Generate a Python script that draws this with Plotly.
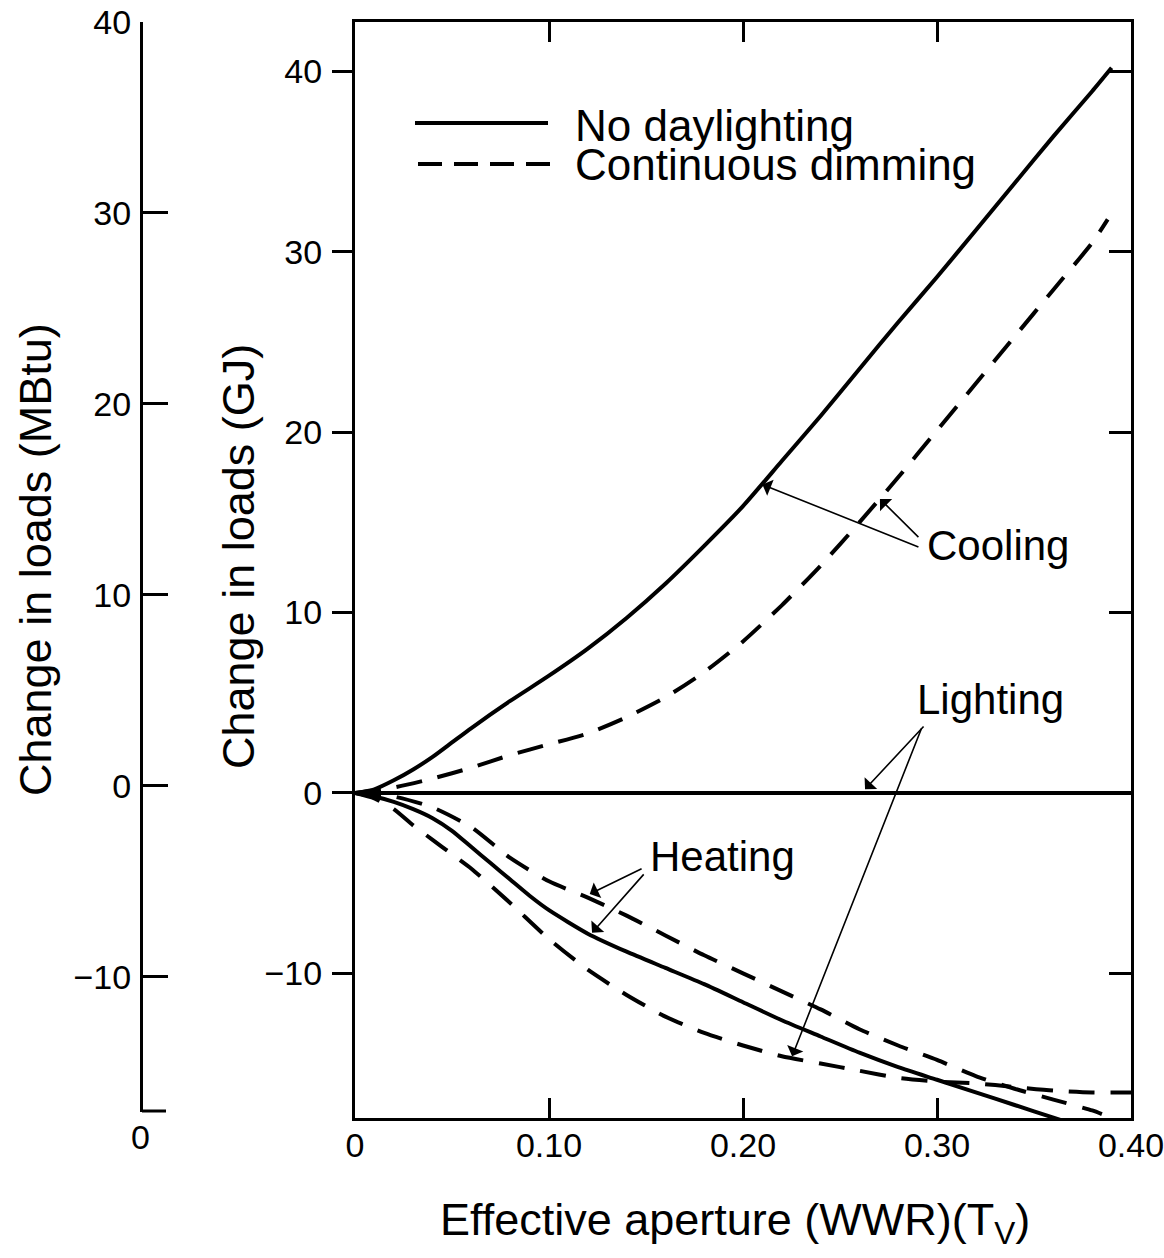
import plotly.graph_objects as go

# ---- load changes (GJ) against effective aperture (WWR)(Tv) ----
cool_none_x = [0, 0.01, 0.02, 0.03, 0.04, 0.05, 0.06, 0.08, 0.10, 0.12, 0.14, 0.16, 0.18, 0.20,
               0.22, 0.24, 0.26, 0.28, 0.30, 0.32, 0.34, 0.36, 0.38, 0.39]
cool_none_y = [0, 0.2, 0.7, 1.3, 2.0, 2.8, 3.6, 5.1, 6.5, 8.0, 9.7, 11.6, 13.7, 15.9,
               18.4, 20.9, 23.5, 26.1, 28.6, 31.2, 33.8, 36.4, 38.9, 40.2]

cool_dim_x = [0, 0.02, 0.04, 0.06, 0.08, 0.10, 0.12, 0.14, 0.16, 0.18, 0.20, 0.22, 0.24,
              0.26, 0.28, 0.30, 0.32, 0.34, 0.36, 0.38, 0.388]
cool_dim_y = [0, 0.3, 0.8, 1.4, 2.1, 2.7, 3.3, 4.2, 5.3, 6.7, 8.4, 10.4, 12.6,
              15.0, 17.5, 20.1, 22.7, 25.3, 27.9, 30.5, 31.8]

light_none_x = [0, 0.40]
light_none_y = [0, 0]

light_dim_x = [0, 0.01, 0.02, 0.03, 0.04, 0.05, 0.06, 0.08, 0.10, 0.12, 0.14, 0.16, 0.18, 0.20,
               0.22, 0.24, 0.26, 0.28, 0.30, 0.32, 0.34, 0.36, 0.38, 0.40]
light_dim_y = [0, -0.3, -0.9, -1.8, -2.6, -3.4, -4.2, -6.1, -8.1, -9.8, -11.2, -12.4, -13.3, -14.0,
               -14.6, -15.0, -15.4, -15.8, -16.0, -16.1, -16.3, -16.5, -16.6, -16.6]

heat_none_x = [0, 0.01, 0.02, 0.03, 0.04, 0.05, 0.06, 0.07, 0.08, 0.09, 0.10, 0.12, 0.14, 0.16,
               0.18, 0.20, 0.22, 0.24, 0.26, 0.28, 0.30, 0.32, 0.34, 0.36, 0.38]
heat_none_y = [0, -0.2, -0.5, -0.9, -1.4, -2.1, -3.0, -3.9, -4.8, -5.7, -6.5, -7.8, -8.8, -9.7,
               -10.6, -11.6, -12.6, -13.5, -14.4, -15.2, -15.9, -16.6, -17.3, -18.0, -18.7]

heat_dim_x = [0, 0.02, 0.04, 0.06, 0.08, 0.10, 0.12, 0.14, 0.16, 0.18, 0.20, 0.22, 0.24, 0.26,
              0.28, 0.30, 0.32, 0.34, 0.36, 0.38, 0.385]
heat_dim_y = [0, -0.2, -0.8, -1.9, -3.6, -4.9, -5.8, -6.8, -7.9, -9.0, -10.0, -11.0, -12.0, -13.1,
              -14.0, -14.8, -15.7, -16.4, -17.0, -17.6, -17.8]

x_ticks = [0, 0.1, 0.2, 0.3, 0.4]
x_tick_text = ["0", "0.10", "0.20", "0.30", "0.40"]
gj_ticks = [-10, 0, 10, 20, 30, 40]
gj_tick_text = ["\u221210", "0", "10", "20", "30", "40"]
mbtu_ticks = [-10, 0, 10, 20, 30, 40]
mbtu_tick_text = ["\u221210", "0", "10", "20", "30", "40"]

W, H = 1164, 1258
FONT = "Liberation Sans, Arial, sans-serif"
DASH = "26px,16px"

GJ_RANGE = [-18.02, 42.74]
MBTU_RANGE = [-17.07, 40]


def px_x(p):
    return p / W


def px_y(p):
    return 1 - p / H


fig = go.Figure()

curves = [
    (cool_none_x, cool_none_y, "solid"),
    (cool_dim_x, cool_dim_y, DASH),
    (light_none_x, light_none_y, "solid"),
    (light_dim_x, light_dim_y, DASH),
    (heat_none_x, heat_none_y, "solid"),
    (heat_dim_x, heat_dim_y, DASH),
]
for cx, cy, dash in curves:
    fig.add_trace(go.Scatter(x=cx, y=cy, mode="lines",
                             line=dict(color="black", width=4, dash=dash, shape="spline", smoothing=0.6),
                             showlegend=False, hoverinfo="skip"))

# right-hand inward ticks on the GJ scale
fig.add_trace(go.Scatter(x=[], y=[], xaxis="x", yaxis="y3", showlegend=False, hoverinfo="skip"))
# free-standing MBtu scale
fig.add_trace(go.Scatter(x=[], y=[], xaxis="x2", yaxis="y2", showlegend=False, hoverinfo="skip"))

tickfont = dict(family=FONT, size=34, color="black")

fig.update_layout(
    width=W, height=H,
    margin=dict(l=0, r=0, t=0, b=0, autoexpand=False),
    paper_bgcolor="white", plot_bgcolor="white",
    xaxis=dict(domain=[px_x(355), px_x(1131)], range=[0, 0.4],
               tickvals=x_ticks, ticktext=x_tick_text, tickfont=tickfont,
               ticks="inside", ticklen=20, tickwidth=2.5, tickcolor="black",
               showline=True, linewidth=3, linecolor="black", mirror="ticks",
               showgrid=False, zeroline=False, ticklabelstandoff=-5,
               automargin=False, ticklabeloverflow="allow"),
    yaxis=dict(domain=[px_y(1118), px_y(22)], range=GJ_RANGE,
               tickvals=gj_ticks, ticktext=gj_tick_text, tickfont=tickfont,
               ticks="outside", ticklen=20, tickwidth=2.5, tickcolor="black",
               showline=True, linewidth=3, linecolor="black", mirror=True,
               showgrid=False, zeroline=False, ticklabelstandoff=3,
               automargin=False, ticklabeloverflow="allow"),
    yaxis3=dict(overlaying="y", side="right", anchor="x", range=GJ_RANGE,
                tickvals=gj_ticks, showticklabels=False,
                ticks="inside", ticklen=22, tickwidth=2.5, tickcolor="black",
                showline=False, showgrid=False, zeroline=False, automargin=False),
    xaxis2=dict(domain=[px_x(143), 0.2], range=[0, 1], visible=False, automargin=False),
    yaxis2=dict(domain=[px_y(1112), px_y(22)], range=MBTU_RANGE, anchor="x2", side="left",
                tickvals=mbtu_ticks, ticktext=mbtu_tick_text,
                tickfont=tickfont,
                ticks="inside", ticklen=25, tickwidth=3, tickcolor="black",
                showline=True, linewidth=3, linecolor="black",
                showgrid=False, zeroline=False, ticklabelstandoff=2,
                automargin=False, ticklabeloverflow="allow"),
)

annotations = []

# axis titles
title_font = dict(family=FONT, size=45, color="black")
annotations.append(dict(xref="paper", yref="paper", x=px_x(35), y=px_y(560),
                        text="Change in loads (MBtu)", textangle=-90, showarrow=False,
                        font=title_font, xanchor="center", yanchor="middle"))
annotations.append(dict(xref="paper", yref="paper", x=px_x(238), y=px_y(557),
                        text="Change in loads (GJ)", textangle=-90, showarrow=False,
                        font=title_font, xanchor="center", yanchor="middle"))
annotations.append(dict(xref="paper", yref="paper", x=px_x(735), y=px_y(1222),
                        text="Effective aperture (WWR)(T<sub>V</sub>)", showarrow=False,
                        font=title_font, xanchor="center", yanchor="middle"))
annotations.append(dict(xref="paper", yref="paper", x=px_x(140), y=px_y(1137),
                        text="0", showarrow=False, font=tickfont,
                        xanchor="center", yanchor="middle"))

# legend
legend_font = dict(family=FONT, size=44, color="black")
annotations.append(dict(xref="paper", yref="paper", x=px_x(573), y=px_y(126),
                        text="No daylighting", showarrow=False, font=legend_font,
                        xanchor="left", yanchor="middle"))
annotations.append(dict(xref="paper", yref="paper", x=px_x(573), y=px_y(164),
                        text="Continuous dimming", showarrow=False, font=legend_font,
                        xanchor="left", yanchor="middle"))

# curve labels
label_font = dict(family=FONT, size=42, color="black")
for txt, lx, ly in [("Cooling", 0.2938, 13.7), ("Lighting", 0.2887, 5.16), ("Heating", 0.151, -3.55)]:
    annotations.append(dict(xref="x", yref="y", x=lx, y=ly, text=txt, showarrow=False,
                            font=label_font, xanchor="left", yanchor="middle"))

# leader arrows: (tail x, tail y, head x, head y)
arrows = [
    (0.2912, 13.6, 0.2100, 17.1),
    (0.2912, 14.1, 0.2706, 16.3),
    (0.2938, 3.77, 0.2629, 0.2),
    (0.2923, 3.66, 0.2253, -14.6),
    (0.1485, -4.16, 0.1210, -5.6),
    (0.1495, -4.43, 0.1222, -7.75),
]
for tx, ty, hx, hy in arrows:
    annotations.append(dict(xref="x", yref="y", axref="x", ayref="y",
                            x=hx, y=hy, ax=tx, ay=ty, text="", showarrow=True,
                            arrowhead=1, arrowsize=1.8, arrowwidth=1.6, arrowcolor="black"))

fig.update_layout(annotations=annotations)

# foot of the MBtu scale
fig.add_shape(type="line", xref="paper", yref="paper",
              x0=px_x(142), x1=px_x(166), y0=px_y(1111), y1=px_y(1111),
              line=dict(color="black", width=3))

# legend sample lines
fig.add_shape(type="line", xref="paper", yref="paper",
              x0=px_x(415), x1=px_x(548), y0=px_y(123), y1=px_y(123),
              line=dict(color="black", width=4))
fig.add_shape(type="line", xref="paper", yref="paper",
              x0=px_x(418), x1=px_x(560), y0=px_y(164), y1=px_y(164),
              line=dict(color="black", width=4, dash="24px,12px"))

fig.write_html("out.html")
